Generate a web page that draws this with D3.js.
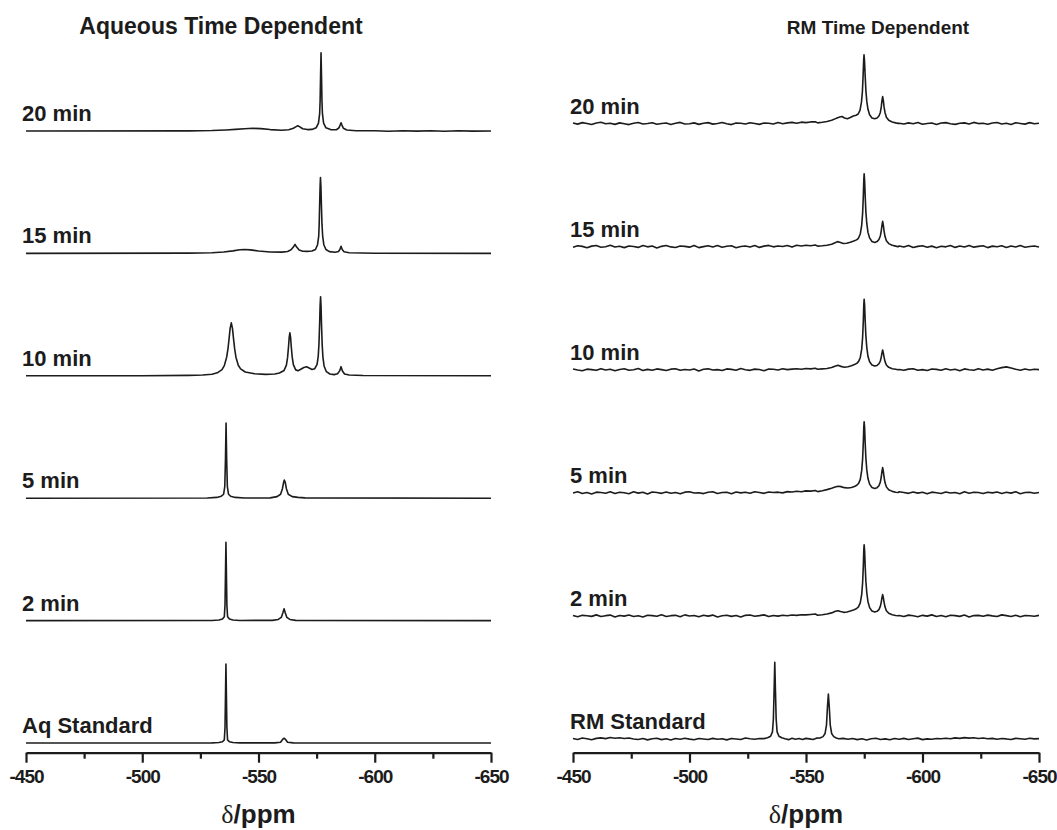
<!DOCTYPE html>
<html>
<head>
<meta charset="utf-8">
<script src="https://cdn.jsdelivr.net/npm/d3@7"></script>
<style>
  body { margin: 0; background: #fff; }
  text { font-family: "Liberation Sans", Arial, sans-serif; fill: #1c1c1c; }
</style>
</head>
<body>
<div class="canvas"></div>
<script>
// ---- data: [ppm, intensity], tallest peak of a panel ~ 100 ----
const aqLabels = ["Aq Standard", "2 min", "5 min", "10 min", "15 min", "20 min"];
const rmLabels = ["RM Standard", "2 min", "5 min", "10 min", "15 min", "20 min"];
const ppmTicks = [-450, -500, -550, -600, -650];
const ppmMinor = [-475, -525, -575, -625];

const aqStd = [[-450,0],[-500,0],[-530,0.2],[-533,0.6],[-534.5,1.5],[-535.3,4],[-535.6,20],[-535.85,70],[-536,100],
  [-536.15,70],[-536.4,20],[-536.7,4],[-537.5,1.5],[-539,0.6],[-542,0.2],[-557,0.2],[-559.5,1],[-560.5,5],[-561,6],
  [-561.5,5],[-562.5,1],[-565,0.2],[-650,0]];
const aq2 = [[-450,0],[-530,0.2],[-533,0.7],[-534.5,2],[-535.3,5],[-535.6,20],[-535.85,70],[-536,99],[-536.15,70],
  [-536.4,20],[-536.7,5],[-537.5,2],[-539,0.7],[-542,0.2],[-556,0.3],[-558.5,1.5],[-559.8,4],[-560.5,10],[-561,15],
  [-561.5,10],[-562.2,4],[-563.5,1.5],[-566,0.3],[-650,0]];
const aq5 = [[-450,0],[-528,0.3],[-532,1],[-534,2.5],[-535,5],[-535.5,15],[-535.8,50],[-536.05,95],[-536.3,50],
  [-536.6,15],[-537.1,5],[-538,2.5],[-540,1],[-544,0.3],[-555,0.4],[-558,2],[-559.5,5],[-560.3,12],[-560.8,20],
  [-561.1,23],[-561.5,20],[-562,12],[-562.8,5],[-564.5,2],[-567,1],[-570,0.4],[-650,0]];
const aq10 = [[-450,0],[-500,0],[-520,0.5],[-526,1],[-530,2],[-532.3,3.8],[-534.3,7.8],[-535.3,12.9],[-536.3,23.5],
  [-536.85,33.8],[-537.3,45.6],[-537.8,60],[-538.3,67],[-538.8,60],[-539.3,45.8],[-539.75,34],[-540.3,23.6],
  [-541.3,13.4],[-542.3,8.7],[-544.3,4.8],[-548.3,2.5],[-553,1.8],[-557,2.3],[-559,3.6],[-561,6.8],[-562,13.5],
  [-562.5,23],[-562.9,36.5],[-563.2,48.5],[-563.5,54.5],[-563.8,48.5],[-564.1,36.7],[-564.5,23.5],[-565,14.2],
  [-566,7.5],[-567,6.5],[-568,8],[-569.5,10.5],[-570.7,11.4],[-572,9.5],[-573,8],[-574.2,9],[-575.2,14.5],
  [-575.7,25],[-576,40],[-576.3,66.5],[-576.5,89],[-576.7,100],[-576.9,88.5],[-577.1,65.5],[-577.4,39],[-577.7,24],
  [-578.2,12.5],[-579.2,5.2],[-580.7,2.3],[-582.5,1.5],[-584,2.5],[-584.9,6.2],[-585.5,11.6],[-586.1,6.1],
  [-587,2.3],[-589,1],[-595,0.4],[-650,0]];
const aq15 = [[-450,0],[-520,0.3],[-530,0.8],[-535,1.8],[-539,3.2],[-542,4.6],[-544,5],[-546.5,4.5],[-550,3],
  [-555,1.8],[-560,1.6],[-562.5,2.5],[-564,4.5],[-565,8],[-565.7,11.5],[-566.4,8],[-567.5,4.2],[-569,2.8],
  [-571,2.6],[-573,3],[-574.5,5],[-575.4,11],[-575.9,22],[-576.1,37],[-576.3,62],[-576.5,85],[-576.65,96],
  [-576.85,85],[-577.05,62],[-577.3,37],[-577.6,22],[-578.1,11],[-579,5],[-580.5,2.3],[-583,1.5],[-584.4,2.5],
  [-585,5],[-585.5,9],[-586,5],[-586.8,2],[-589,0.8],[-600,0.2],[-650,0]];
const aq20 = [[-450,0],[-520,0.2],[-530,0.6],[-536,1.3],[-540,2],[-544,2.9],[-547.6,3.4],[-551,3],[-555,1.8],
  [-560,1],[-563,1.5],[-565,3.5],[-566.2,5.5],[-566.9,6.7],[-567.6,5.5],[-569,2.8],[-571,1.8],[-573,2],[-574.8,4],
  [-575.8,10],[-576.3,22],[-576.5,38],[-576.7,70],[-576.9,99],[-577.1,70],[-577.3,38],[-577.5,22],[-578,10],
  [-579,4],[-581,1.8],[-583.5,1.6],[-584.6,4],[-585.1,7.5],[-585.5,10.5],[-585.9,7.5],[-586.5,3.5],[-588,1.2],
  [-592,0.3],[-600,0.3],[-606,-0.3],[-612,0.4],[-618,-0.2],[-624,0.3],[-630,-0.3],[-636,0.3],[-642,-0.2],[-650,0]];

// RM baselines sampled every 2 ppm from -450 to -650 (null = inside peak region)
const rmGrid = d3.range(-450, -651, -2);
const rmStdNoise = [0.7,-0.6,1.2,0.3,-1.0,0.8,1.4,0.5,1.8,1.0, 1.6,0.6,1.2,0.1,-0.7,0.6,-1.1,0.4,0.9,-0.8,
  0.3,-1.2,0.7,-0.4,1.0,-0.2,-1.0,0.6,0.0,-0.7, 0.8,-0.3,0.4,-1.1,0.7,0.1,-0.6,1.2,0.3,-0.4,
  0.6,null,null,null,null,null,null,null,null,null, null,null,null,null,null,null,null,null,0.8,-0.4,
  0.7,-0.8,0.3,-1.2,0.4,1.0,-0.6,0.2,-1.0,0.6, -0.3,0.8,-0.7,0.4,1.1,-0.8,0.2,-0.4,0.7,0.3,
  1.0,0.4,1.4,0.8,1.7,1.1,1.5,0.7,1.2,0.3, 0.8,-0.4,0.6,0.1,-0.7,0.8,0.4,-0.3,1.0,0.2, 0.5];
const rm2Noise = [0.4,-1.1,0.7,0.1,-0.6,1.3,-0.8,0.3,1.0,-1.4, 0.6,-0.3,1.1,-0.7,0.1,-1.3,0.8,0.4,-0.4,1.4,
  -0.8,0.3,0.7,-1.1,1.3,-0.1,0.6,-1.0,0.8,-0.3, 1.0,-1.3,0.1,0.8,-0.6,0.4,-1.4,0.7,1.1,-0.4,
  0.3,1.3,-0.7,0.6,-0.3,0.8,0.1,1.1,0.7,1.5, 1.3,1.8,2.4,null,null,null,null,null,null,null,
  null,null,null,null,null,null,null,null,null,null, 0.6,-0.8,1.0,0.1,-1.1,0.7,-0.3,1.3,-0.7,0.4,
  -1.0,0.8,0.3,-0.6,1.1,-1.3,0.4,0.7,-0.4,1.0, 0.0,-0.8,1.3,0.3,-0.7,0.8,-1.1,0.6,0.1,-0.4, 0.7];
const rm5Noise = [-0.3,1.3,-0.8,0.4,-1.4,0.8,0.3,-0.6,1.4,-1.0, 0.7,0.1,-1.1,1.3,-0.4,0.6,-1.5,1.0,0.3,-0.7,
  1.1,-0.6,0.4,-1.3,0.8,1.4,-0.3,0.1,-1.0,0.7, 1.3,-0.8,0.3,0.6,-1.1,1.0,-0.1,0.8,-0.6,1.4,
  0.4,-0.7,1.1,0.3,0.8,-0.1,1.5,1.0,2.0,1.4, 2.4,2.1,3.0,null,null,null,null,null,null,null,
  null,null,null,null,null,null,null,null,null,null, 1.3,0.3,-0.7,1.1,-0.4,0.6,-1.3,0.8,0.1,-0.8,
  1.0,-0.3,0.4,-1.1,1.4,-0.6,0.7,0.3,-1.0,0.8, -0.1,1.1,-0.8,0.6,-0.4,1.3,-1.1,0.3,0.7,-0.6, 0.3];
const rm10Noise = [0.8,-0.4,-1.3,0.7,0.1,-0.8,1.3,-0.3,0.6,-1.4, 0.3,1.1,-0.7,-0.1,1.4,-1.1,0.4,-0.6,1.0,0.1,
  -1.0,0.7,1.3,-0.8,0.3,-0.3,0.8,-1.5,0.6,1.1, -0.4,0.1,-1.1,1.0,0.4,-0.7,1.4,-0.1,-0.8,0.7,
  0.3,-1.3,0.8,0.6,-0.4,1.1,0.1,0.7,1.3,0.6, 1.5,1.0,1.8,null,null,null,null,null,null,null,
  null,null,null,null,null,null,null,null,null,null, 0.3,-0.8,0.7,1.3,-0.6,0.1,-1.1,0.8,0.4,-0.7,
  1.1,-0.3,0.6,-1.3,1.0,0.0,-0.8,1.3,-0.4,0.7, -0.6,1.2,2.6,3.6,2.2,0.6,-0.7,0.8,-0.3,0.6, 0.1];
const rm15Noise = [-0.7,1.0,0.3,-1.5,0.6,1.3,-0.8,-0.1,1.7,-0.6, 0.4,-1.3,0.8,0.1,-1.0,1.4,-0.3,0.7,-1.7,0.3,
  1.3,-0.4,-1.1,0.8,0.3,-0.7,1.5,-1.3,0.0,1.0, -0.6,1.4,-0.8,0.4,1.1,-1.4,0.1,0.8,-0.4,1.3,
  -1.0,0.6,1.5,-0.3,0.7,0.1,1.3,-0.6,1.8,0.8, 1.7,1.1,2.1,null,null,null,null,null,null,null,
  null,null,null,null,null,null,null,null,null,null, 0.8,-0.6,1.4,-1.1,0.3,1.0,-0.8,0.6,-1.4,0.4,
  -0.3,1.3,-1.0,0.7,-0.4,1.5,-0.7,0.3,1.1,-1.3, 0.6,-0.1,1.0,-1.1,0.8,-0.4,1.3,-0.8,0.1,0.7, -0.4];
const rm20Noise = [0.6,-0.8,1.1,0.1,-1.3,0.7,1.5,-0.4,0.3,-1.1, 0.8,-0.3,-1.4,0.4,1.3,-0.6,0.1,1.0,-1.0,-0.1,
  0.7,-1.3,0.3,1.4,-0.7,-0.3,0.8,-1.1,0.4,1.1, -0.8,0.1,1.3,-0.4,-1.4,0.6,0.3,-0.7,1.0,0.0,
  -1.1,0.7,0.4,-0.6,1.3,-0.3,0.8,1.4,0.3,1.7, 1.1,2.0,2.2,null,null,null,null,null,null,null,
  null,null,null,null,null,null,null,null,null,null, 0.4,-0.7,0.8,-0.3,1.3,-1.0,0.1,0.7,-1.3,0.6,
  1.1,-0.4,-1.1,0.3,0.8,-0.7,1.4,-0.1,0.4,-1.0, 0.7,1.3,-0.6,0.3,-1.3,1.0,0.1,-0.8,1.1,-0.3, 0.4];

const rmStdPeaks = [[-532,0.5],[-533.5,1.5],[-534.8,3.5],[-535.6,9],[-536.0,25],[-536.3,60],[-536.6,97],[-536.9,60],
  [-537.2,25],[-537.6,9],[-538.4,3.5],[-539.6,1.5],[-541,0.2],[-542.5,-0.8],[-544,0.9],[-545.5,-0.4],[-547,0.6],
  [-548.5,-0.7],[-550,0.8],[-551.5,0.2],[-553,-0.6],[-554.5,1.1],[-556,1.3],[-557.3,3],[-558.2,7],[-558.8,18],
  [-559.2,40],[-559.6,57],[-560,40],[-560.4,18],[-561,7],[-561.9,3],[-563,1.2],[-564,0.3]];
const rm2Peaks = [[-555,0.9],[-557,1.5],[-559,2.4],[-561,3.8],[-562.6,5.8],[-563.7,6.6],[-564.8,5.5],[-566.2,4.5],
  [-567.6,5],[-569,6.2],[-570.4,7.5],[-571.6,9],[-572.5,11.5],[-573.3,16.5],[-573.9,27],[-574.3,42],[-574.6,63],
  [-574.8,83],[-574.95,90],[-575.15,83],[-575.4,63],[-575.7,44],[-576.1,29],[-576.6,18],[-577.3,10.5],[-578.3,6.3],
  [-579.5,5],[-580.5,5.8],[-581.3,8],[-581.9,12],[-582.3,17.5],[-582.6,23],[-582.9,27],[-583.2,23],[-583.5,17.5],
  [-583.9,11.5],[-584.5,6.5],[-585.5,3.3],[-587,1.5],[-588.5,0.5],[-589.5,0.1]];
const rm5Peaks = [[-555,1.5],[-557,2.6],[-559,4],[-561,5.8],[-562.5,7.3],[-563.8,8.2],[-565,7.8],[-566.5,6.5],
  [-568,6],[-569.5,6.8],[-570.8,8],[-571.8,9.5],[-572.6,12],[-573.3,17],[-573.9,28],[-574.3,43],[-574.6,64],
  [-574.8,83],[-574.95,90],[-575.15,83],[-575.4,63],[-575.7,44],[-576.1,29],[-576.6,18],[-577.3,11],[-578.3,6.8],
  [-579.5,5.5],[-580.5,6.5],[-581.3,9],[-581.9,13.5],[-582.3,20],[-582.6,27],[-582.9,32],[-583.2,27],[-583.5,20],
  [-583.9,13],[-584.5,7.5],[-585.5,3.8],[-587,1.8],[-588.5,0.7],[-589.5,0.3]];
const rm10Peaks = [[-555,0.5],[-557,1],[-559,1.6],[-561,2.8],[-562.7,4.8],[-563.7,5.5],[-565,4.2],[-566.5,3.2],
  [-568,3.8],[-569.5,5],[-570.8,6.5],[-571.8,8],[-572.6,10.5],[-573.3,15.5],[-573.9,26],[-574.3,41],[-574.6,62],
  [-574.8,82],[-574.95,89],[-575.15,82],[-575.4,62],[-575.7,43],[-576.1,28],[-576.6,17],[-577.3,10],[-578.3,6],
  [-579.5,4.6],[-580.5,5.4],[-581.3,7.5],[-581.9,11],[-582.3,16],[-582.6,21],[-582.9,25],[-583.2,21],[-583.5,16],
  [-583.9,10.5],[-584.5,6],[-585.5,3],[-587,1.3],[-588.5,0.5],[-589.5,0]];
const rm15Peaks = [[-555,0.6],[-557,1],[-559,1.8],[-561,3],[-562.5,5],[-563.5,6.3],[-564.5,5.5],[-566,4],
  [-567.5,4.2],[-569,5.5],[-570.5,7],[-571.7,8.5],[-572.5,10.5],[-573.3,16],[-573.9,27],[-574.3,42],[-574.6,64],
  [-574.8,84],[-574.95,92],[-575.15,84],[-575.4,64],[-575.7,44],[-576.1,29],[-576.6,18],[-577.3,11],[-578.3,6.5],
  [-579.5,5.2],[-580.5,6.3],[-581.3,9],[-581.9,13.5],[-582.3,20],[-582.6,27],[-582.9,32],[-583.2,27],[-583.5,20],
  [-583.9,13],[-584.5,7.5],[-585.5,3.8],[-587,1.6],[-588.5,0.6],[-589.5,-0.2]];
const rm20Peaks = [[-555,0.8],[-557,1.5],[-559,2.5],[-561,4],[-563,6.5],[-564.5,8.2],[-565.5,8.8],[-566.5,7],
  [-567.8,6],[-569,7.5],[-570.3,9.5],[-571.5,10.5],[-572.4,12],[-573.2,17],[-573.8,27],[-574.2,40],[-574.5,60],
  [-574.75,80],[-574.9,87],[-575.1,80],[-575.4,60],[-575.7,42],[-576.1,28],[-576.6,18],[-577.3,11],[-578.3,7],
  [-579.5,6],[-580.5,7],[-581.3,9.5],[-581.9,14],[-582.3,21],[-582.6,29],[-582.9,34],[-583.2,29],[-583.5,21],
  [-583.9,14],[-584.5,8],[-585.5,4],[-587,2],[-588.5,0.8],[-589.5,0.2]];

// merge baseline samples and peak points into one trace
function rmTrace(noise, peaks) {
  return rmGrid.map((p, i) => [p, noise[i]])
    .filter(d => d[1] !== null)
    .concat(peaks)
    .sort((a, b) => b[0] - a[0]);
}

const aqTraces = [aqStd, aq2, aq5, aq10, aq15, aq20];
const rmTraces = [
  rmTrace(rmStdNoise, rmStdPeaks), rmTrace(rm2Noise, rm2Peaks), rmTrace(rm5Noise, rm5Peaks),
  rmTrace(rm10Noise, rm10Peaks), rmTrace(rm15Noise, rm15Peaks), rmTrace(rm20Noise, rm20Peaks)
];

// ---- drawing ----
const ink = "#1c1c1c";
const axisY = 752.7;

const svg = d3.select(".canvas").append("svg")
  .attr("width", 1057)
  .attr("height", 830);

// intensity -> pixel height
const h = d3.scaleLinear().domain([0, 100]).range([0, 79]);

function drawPanel(opt) {
  const x = d3.scaleLinear().domain([-450, -650]).range(opt.xRange);
  const base = d3.scalePoint().domain(opt.labels).range(opt.yRange);
  const g = svg.append("g");

  opt.traces.forEach((tr, i) => {
    const b = base(opt.labels[i]);
    const line = d3.line()
      .x(d => x(d[0]))
      .y(d => b - h(d[1]));
    g.append("path")
      .datum(tr)
      .attr("d", line)
      .attr("fill", "none")
      .attr("stroke", ink)
      .attr("stroke-width", 1.6)
      .attr("stroke-linejoin", "round");
    g.append("text")
      .attr("x", opt.labelX)
      .attr("y", b - 10)
      .attr("font-size", 22)
      .attr("font-weight", "bold")
      .text(opt.labels[i]);
  });

  // axis with major + minor ticks
  const axisG = g.append("g").attr("transform", `translate(0,${axisY})`);
  axisG.call(d3.axisBottom(x)
    .tickValues(ppmTicks)
    .tickSize(10)
    .tickSizeOuter(0)
    .tickPadding(7)
    .tickFormat(d => String(d)));
  const minorG = g.append("g").attr("transform", `translate(0,${axisY})`);
  minorG.call(d3.axisBottom(x).tickValues(ppmMinor).tickSize(6).tickFormat(""));
  minorG.select(".domain").remove();

  g.selectAll(".domain, .tick line")
    .attr("stroke", ink)
    .attr("stroke-width", 2.2);
  axisG.selectAll("text")
    .attr("font-size", 19)
    .attr("font-weight", "bold")
    .attr("letter-spacing", -1)
    .attr("fill", ink)
    .attr("font-family", "'Liberation Sans', Arial, sans-serif");

  // title
  g.append("text")
    .attr("x", opt.titleX)
    .attr("y", 34)
    .attr("text-anchor", "middle")
    .attr("font-size", opt.titleSize)
    .attr("font-weight", "bold")
    .text(opt.title);

  // x label
  const xl = g.append("text")
    .attr("x", (opt.xRange[0] + opt.xRange[1]) / 2)
    .attr("y", 823)
    .attr("text-anchor", "middle")
    .attr("font-size", 26);
  xl.append("tspan").attr("font-family", "'Liberation Serif', 'DejaVu Serif', serif").text("δ");
  xl.append("tspan").attr("font-weight", "bold").text("/ppm");
}

drawPanel({
  traces: aqTraces, labels: aqLabels, title: "Aqueous Time Dependent", titleSize: 23,
  xRange: [26, 491], yRange: [743, 131], labelX: 22, titleX: 221
});
drawPanel({
  traces: rmTraces, labels: rmLabels, title: "RM Time Dependent", titleSize: 19,
  xRange: [573, 1039], yRange: [739, 123.5], labelX: 570, titleX: 878
});
</script>
</body>
</html>
